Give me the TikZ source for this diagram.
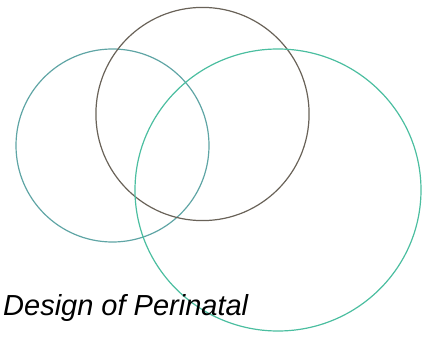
\documentclass[tikz,border=0pt]{standalone}
\usepackage{fontspec}
\setmainfont{Liberation Sans}
\usepackage{xcolor}
\usepackage{tikz}
\usetikzlibrary{positioning}

\definecolor{leftring}{RGB}{95,165,165}
\definecolor{topring}{RGB}{105,98,88}
\definecolor{bigring}{RGB}{75,190,160}

\begin{document}
\begin{tikzpicture}[
  x=1pt, y=-1pt,
  ring/.style={line width=1.2pt},
  caption/.style={anchor=base west, inner sep=0pt, font=\fontsize{29}{33}\selectfont\itshape},
]
\useasboundingbox (0,0) rectangle (425,339);

% Rings
\draw[ring, leftring] (112.5,145.5) circle [radius=96.5];
\draw[ring, topring] (202.5,114) circle [radius=106.6];
\draw[ring, bigring] (278,190) ellipse [x radius=143, y radius=141];

% Caption
\node[caption] (title) at (3,315) {Design of Perinatal};
\end{tikzpicture}
\end{document}
